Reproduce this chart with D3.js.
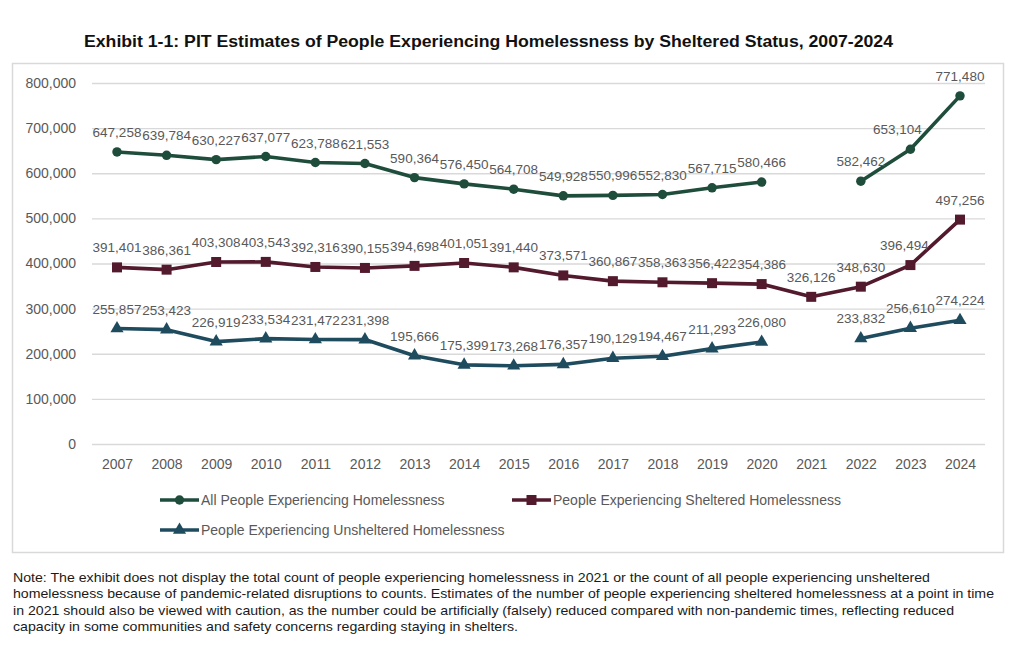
<!DOCTYPE html>
<html>
<head>
<meta charset="utf-8">
<script src="https://cdn.jsdelivr.net/npm/d3@7"></script>
<style>
  body { margin: 0; background: #fff; }
  svg { display: block; }
</style>
</head>
<body>
<div id="chart"></div>
<script>
// Data read from the exhibit (null = not shown for 2021)
const years = [2007, 2008, 2009, 2010, 2011, 2012, 2013, 2014, 2015, 2016, 2017, 2018, 2019, 2020, 2021, 2022, 2023, 2024];
const allPeople = [647258, 639784, 630227, 637077, 623788, 621553, 590364, 576450, 564708, 549928, 550996, 552830, 567715, 580466, null, 582462, 653104, 771480];
const sheltered = [391401, 386361, 403308, 403543, 392316, 390155, 394698, 401051, 391440, 373571, 360867, 358363, 356422, 354386, 326126, 348630, 396494, 497256];
const unsheltered = [255857, 253423, 226919, 233534, 231472, 231398, 195666, 175399, 173268, 176357, 190129, 194467, 211293, 226080, null, 233832, 256610, 274224];
const yTicks = [0, 100000, 200000, 300000, 400000, 500000, 600000, 700000, 800000];
const seriesNames = [
  "All People Experiencing Homelessness",
  "People Experiencing Sheltered Homelessness",
  "People Experiencing Unsheltered Homelessness"
];

const titleText = "Exhibit 1-1: PIT Estimates of People Experiencing Homelessness by Sheltered Status, 2007-2024";
const noteLines = [
  "Note: The exhibit does not display the total count of people experiencing homelessness in 2021 or the count of all people experiencing unsheltered",
  "homelessness because of pandemic-related disruptions to counts. Estimates of the number of people experiencing sheltered homelessness at a point in time",
  "in 2021 should also be viewed with caution, as the number could be artificially (falsely) reduced compared with non-pandemic times, reflecting reduced",
  "capacity in some communities and safety concerns regarding staying in shelters."
];

// 1. Setup
const width = 1024, height = 654;
const svg = d3.select("#chart").append("svg")
  .attr("width", width)
  .attr("height", height);

const series = [
  { name: seriesNames[0], values: allPeople, color: "#1f4d3c", symbol: d3.symbolCircle, size: 70, nudge: { 2023: -13 } },
  { name: seriesNames[1], values: sheltered, color: "#521a2c", symbol: d3.symbolSquare, size: 100, nudge: { 2023: -6 } },
  { name: seriesNames[2], values: unsheltered, color: "#1f4b5e", symbol: d3.symbolTriangle, size: 75, nudge: {} }
];

// Title
svg.append("text")
  .attr("x", 84)
  .attr("y", 47)
  .attr("font-family", "'Liberation Sans Narrow', 'Arial Narrow', 'Liberation Sans', Arial, sans-serif")
  .attr("font-weight", "bold")
  .attr("font-size", "16px")
  .attr("fill", "#111")
  .attr("textLength", 809)
  .attr("lengthAdjust", "spacingAndGlyphs")
  .text(titleText);

// Chart frame
svg.append("rect")
  .attr("x", 12.5)
  .attr("y", 63.5)
  .attr("width", 991)
  .attr("height", 489)
  .attr("fill", "none")
  .attr("stroke", "#d9d9d9")
  .attr("stroke-width", 1.5);

// 2. Scales
const x = d3.scaleLinear()
  .domain(d3.extent(years))
  .range([117, 960]);

const y = d3.scaleLinear()
  .domain([0, 800000])
  .range([444, 83]);

// 3. Gridlines + y labels
const fmt = d3.format(",");
const yAxis = svg.append("g")
  .attr("transform", "translate(92,0)")
  .call(d3.axisLeft(y).tickValues(yTicks).tickSize(-893).tickPadding(16).tickFormat(fmt));
yAxis.select(".domain").remove();
yAxis.selectAll(".tick line").attr("stroke", "#d9d9d9").attr("stroke-width", 1.3);
yAxis.selectAll(".tick text")
  .attr("fill", "#595959")
  .attr("font-family", "'Liberation Sans', Arial, sans-serif")
  .attr("font-size", "14px");

// x labels
const xAxis = svg.append("g")
  .attr("transform", "translate(0,444)")
  .call(d3.axisBottom(x).tickValues(years).tickSize(0).tickPadding(15).tickFormat(d3.format("d")));
xAxis.select(".domain").remove();
xAxis.selectAll(".tick text")
  .attr("fill", "#595959")
  .attr("font-family", "'Liberation Sans', Arial, sans-serif")
  .attr("font-size", "14px");

// 4. Lines, markers, data labels
const line = d3.line()
  .defined(d => d.value != null)
  .x(d => x(d.year))
  .y(d => y(d.value));

series.forEach(s => {
  const pts = years.map((yr, i) => ({ year: yr, value: s.values[i] }));
  const shown = pts.filter(d => d.value != null);

  svg.append("path")
    .datum(pts)
    .attr("fill", "none")
    .attr("stroke", s.color)
    .attr("stroke-width", 3.6)
    .attr("stroke-linejoin", "round")
    .attr("d", line);

  svg.selectAll(null)
    .data(shown)
    .enter().append("path")
    .attr("transform", d => `translate(${x(d.year)},${y(d.value)})`)
    .attr("d", d3.symbol().type(s.symbol).size(s.size))
    .attr("fill", s.color);

  svg.selectAll(null)
    .data(shown)
    .enter().append("text")
    .attr("x", d => x(d.year) + (s.nudge[d.year] || 0))
    .attr("y", d => y(d.value) - 15)
    .attr("text-anchor", "middle")
    .attr("fill", "#595959")
    .attr("font-family", "'Liberation Sans', Arial, sans-serif")
    .attr("font-size", "13.5px")
    .text(d => fmt(d.value));
});

// 5. Legend
const legendPos = [
  { x: 160, y: 500 },
  { x: 512, y: 500 },
  { x: 160, y: 530 }
];
series.forEach((s, i) => {
  const g = svg.append("g").attr("transform", `translate(${legendPos[i].x},${legendPos[i].y})`);
  g.append("line")
    .attr("x1", 0).attr("x2", 39)
    .attr("stroke", s.color)
    .attr("stroke-width", 3.6);
  g.append("path")
    .attr("transform", "translate(19.5,0)")
    .attr("d", d3.symbol().type(s.symbol).size(s.size))
    .attr("fill", s.color);
  g.append("text")
    .attr("x", 41)
    .attr("dy", "0.35em")
    .attr("fill", "#595959")
    .attr("font-family", "'Liberation Sans', Arial, sans-serif")
    .attr("font-size", "14px")
    .text(s.name);
});

// 6. Note
const noteWidths = [917, 981, 941, 505];
svg.selectAll(null)
  .data(noteLines)
  .enter().append("text")
  .attr("x", 13)
  .attr("y", (d, i) => 582 + i * 16.4)
  .attr("fill", "#1a1a1a")
  .attr("font-family", "'Liberation Sans Narrow', 'Arial Narrow', 'Liberation Sans', Arial, sans-serif")
  .attr("font-size", "13.5px")
  .attr("textLength", (d, i) => noteWidths[i])
  .attr("lengthAdjust", "spacingAndGlyphs")
  .text(d => d);
</script>
</body>
</html>
